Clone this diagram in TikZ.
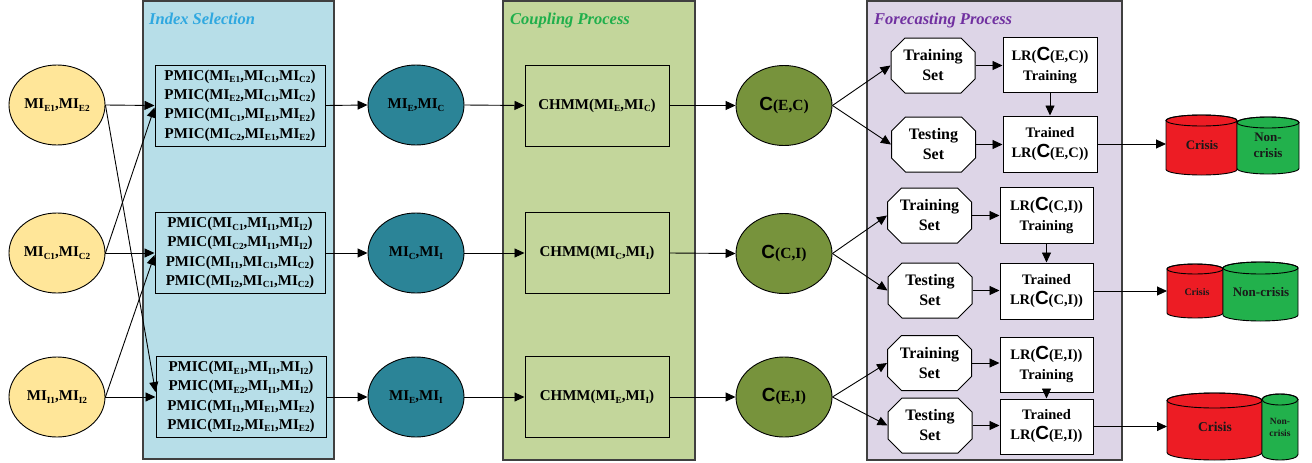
\documentclass[tikz,border=0pt]{standalone}
\usepackage{fontspec}
\setmainfont{Liberation Serif}
\newfontfamily\sansC{Liberation Sans}
\usetikzlibrary{shapes.geometric,shapes.misc,arrows.meta,calc}
\definecolor{idxfill}{HTML}{B7DEE8}
\definecolor{idxtitle}{HTML}{2FA8E0}
\definecolor{cpfill}{HTML}{C3D69B}
\definecolor{cptitle}{HTML}{1FAF4B}
\definecolor{fcfill}{HTML}{DDD5E7}
\definecolor{fctitle}{HTML}{7030A0}
\definecolor{yellc}{HTML}{FFE699}
\definecolor{tealc}{HTML}{2B8497}
\definecolor{olivec}{HTML}{77933C}
\definecolor{redc}{HTML}{ED1C24}
\definecolor{greenc}{HTML}{22B14C}
\definecolor{panelline}{HTML}{404040}
\newcommand\sbx[1]{\raisebox{-0.35ex}{\scalebox{0.62}{#1}}}
\newcommand\bigC{{\sansC\bfseries\fontsize{19}{19}\selectfont C}}
\newcommand\drum[6]{%
  \pgfmathsetmacro\dxc{(#1+#2)/2}\pgfmathsetmacro\drx{(#2-#1)/2}%
  \filldraw[fill=#6,line width=0.9pt] (#1,#3+#5) -- (#1,#4-#5)
    arc[start angle=180,end angle=0,x radius=\drx,y radius=#5] -- (#2,#3+#5)
    arc[start angle=0,end angle=-180,x radius=\drx,y radius=#5] -- cycle;
  \draw[line width=0.9pt] (\dxc,#3+#5) ellipse[x radius=\drx,y radius=#5];}
\tikzset{
  panel/.style={draw=panelline,line width=1.3pt},
  ptitle/.style={anchor=base west,inner sep=0pt,font=\fontsize{16.5}{18}\selectfont\bfseries\itshape},
  yell/.style={ellipse,draw,fill=yellc,line width=0.9pt,minimum width=96pt,minimum height=80pt,inner sep=0pt,font=\fontsize{15}{18}\selectfont\bfseries},
  teal/.style={ellipse,draw,fill=tealc,line width=0.9pt,minimum width=96pt,minimum height=80pt,inner sep=0pt,font=\fontsize{15}{18}\selectfont\bfseries},
  olive/.style={ellipse,draw,fill=olivec,line width=0.9pt,minimum width=96pt,minimum height=80pt,inner sep=0pt,font=\fontsize{15.5}{18}\selectfont\bfseries},
  pmbox/.style={rectangle,draw,line width=1pt,minimum width=170pt,minimum height=81pt,inner sep=0pt,align=center,font=\fontsize{15}{19.3}\selectfont\bfseries},
  chbox/.style={rectangle,draw,line width=1pt,minimum width=144pt,minimum height=81pt,inner sep=0pt,align=center,font=\fontsize{15}{19}\selectfont\bfseries},
  octa/.style={chamfered rectangle,chamfered rectangle xsep=6pt,chamfered rectangle ysep=8pt,draw,fill=white,line width=1pt,minimum width=84pt,minimum height=55pt,inner sep=0pt,align=center,font=\fontsize{16}{20}\selectfont\bfseries},
  lrbox/.style={rectangle,draw,fill=white,line width=1pt,minimum width=94pt,minimum height=55pt,inner sep=0pt,align=center,font=\fontsize{14.5}{20}\selectfont\bfseries},
  cyltxt/.style={inner sep=0pt,align=center,text=black!90,font=\bfseries},
  arr/.style={-{Triangle[length=10pt,width=9pt]},line width=0.9pt},
  ln/.style={line width=0.9pt}
}
\begin{document}
\begin{tikzpicture}[x=1pt,y=-1pt]
\useasboundingbox (0,0) rectangle (1312,463);
% panels
\filldraw[panel,fill=idxfill] (143,1) rectangle (334,459);
\filldraw[panel,fill=cpfill] (503,1) rectangle (695,460);
\filldraw[panel,fill=fcfill] (867,1) rectangle (1122,460);
\node[ptitle,text=idxtitle] (t1) at (149,24) {Index Selection};
\node[ptitle,text=cptitle] (t2) at (510,24) {Coupling Process};
\node[ptitle,text=fctitle] (t3) at (874,24) {Forecasting Process};
% input ellipses
\node[yell] (yE) at (57,105) {MI\sbx{E1},MI\sbx{E2}};
\node[yell] (yC) at (57,253) {MI\sbx{C1},MI\sbx{C2}};
\node[yell] (yI) at (57,397) {MI\sbx{I1},MI\sbx{I2}};
% PMIC boxes
\node[pmbox] (pm1) at (240,105.5) {PMIC(MI\sbx{E1},MI\sbx{C1},MI\sbx{C2})\\PMIC(MI\sbx{E2},MI\sbx{C1},MI\sbx{C2})\\PMIC(MI\sbx{C1},MI\sbx{E1},MI\sbx{E2})\\PMIC(MI\sbx{C2},MI\sbx{E1},MI\sbx{E2})};
\node[pmbox] (pm2) at (240,253) {PMIC(MI\sbx{C1},MI\sbx{I1},MI\sbx{I2})\\PMIC(MI\sbx{C2},MI\sbx{I1},MI\sbx{I2})\\PMIC(MI\sbx{I1},MI\sbx{C1},MI\sbx{C2})\\PMIC(MI\sbx{I2},MI\sbx{C1},MI\sbx{C2})};
\node[pmbox] (pm3) at (241,397) {PMIC(MI\sbx{E1},MI\sbx{I1},MI\sbx{I2})\\PMIC(MI\sbx{E2},MI\sbx{I1},MI\sbx{I2})\\PMIC(MI\sbx{I1},MI\sbx{E1},MI\sbx{E2})\\PMIC(MI\sbx{I2},MI\sbx{E1},MI\sbx{E2})};
% teal ellipses
\node[teal] (tE) at (416,105) {MI\sbx{E},MI\sbx{C}};
\node[teal] (tC) at (416,253) {MI\sbx{C},MI\sbx{I}};
\node[teal] (tI) at (416,397) {MI\sbx{E},MI\sbx{I}};
% CHMM boxes
\node[chbox] (ch1) at (597,105.5) {CHMM(MI\sbx{E},MI\sbx{C})};
\node[chbox] (ch2) at (597,253) {CHMM(MI\sbx{C},MI\sbx{I})};
\node[chbox] (ch3) at (597,397) {CHMM(MI\sbx{E},MI\sbx{I})};
% olive ellipses
\node[olive] (gE) at (784,105.5) {\bigC(E,C)};
\node[olive] (gC) at (784,253.5) {\bigC(C,I)};
\node[olive] (gI) at (784,397) {\bigC(E,I)};
% forecasting group 1
\node[octa] (tr1) at (933,65.5) {Training\\Set};
\node[octa] (te1) at (933.5,144.5) {Testing\\Set};
\node[lrbox] (lr1) at (1050,65) {LR(\bigC(E,C))\\Training};
\node[lrbox,minimum height=56pt] (td1) at (1050,144) {Trained\\LR(\bigC(E,C))};
% group 2
\node[octa] (tr2) at (929.5,215.5) {Training\\Set};
\node[octa] (te2) at (930,290.5) {Testing\\Set};
\node[lrbox,minimum width=93pt,minimum height=56pt] (lr2) at (1046.5,215) {LR(\bigC(C,I))\\Training};
\node[lrbox,minimum width=93pt,minimum height=56pt] (td2) at (1046.5,291) {Trained\\LR(\bigC(C,I))};
% group 3
\node[octa] (tr3) at (929.5,363) {Training\\Set};
\node[octa] (te3) at (930,425.5) {Testing\\Set};
\node[lrbox,minimum width=93pt] (lr3) at (1046.5,364.5) {LR(\bigC(E,I))\\Training};
\node[lrbox,minimum width=93pt] (td3) at (1046.5,426.5) {Trained\\LR(\bigC(E,I))};
% cylinders
\drum{1166}{1237}{115}{175}{5.5}{redc}
\drum{1237}{1299}{117}{174}{5.5}{greenc}
\drum{1167}{1223}{264}{318}{5}{redc}
\drum{1223}{1298}{262}{321}{6}{greenc}
\drum{1167}{1262}{393}{460}{7.5}{redc}
\drum{1262}{1298}{394}{460}{5.5}{greenc}
\coordinate (cyA) at (1166,144);
\coordinate (cyB) at (1167,291);
\coordinate (cyC) at (1167,426);
\node[cyltxt,font=\fontsize{13}{16}\selectfont\bfseries] (crA) at (1202,145) {Crisis};
\node[cyltxt,font=\fontsize{13}{16}\selectfont\bfseries] (ncA) at (1268,145) {Non-\\crisis};
\node[cyltxt,font=\fontsize{10}{12}\selectfont\bfseries] (crB) at (1197,292) {Crisis};
\node[cyltxt,font=\fontsize{13}{16}\selectfont\bfseries] (ncB) at (1261,292) {Non-crisis};
\node[cyltxt,font=\fontsize{13.5}{16}\selectfont\bfseries] (crC) at (1215,427) {Crisis};
\node[cyltxt,font=\fontsize{9.5}{12}\selectfont\bfseries] (ncC) at (1280,427) {Non-\\crisis};
% connectors: inputs to PMIC
\draw[arr] (yE.east) -- (pm1.west);
\draw[arr] (yE.east) -- ([yshift=5pt]pm3.west);
\draw[arr] (yC.east) -- ([yshift=-2pt]pm1.west);
\draw[arr] (yC.east) -- (pm2.west);
\draw[arr] (yI.east) -- ([yshift=-2pt]pm2.west);
\draw[arr] (yI.east) -- (pm3.west);
% PMIC -> teal -> CHMM -> olive
\draw[arr] (pm1.east) -- (tE.west);
\draw[arr] (pm2.east) -- (tC.west);
\draw[arr] (pm3.east) -- (tI.west);
\draw[arr] (tE.east) -- (ch1.west);
\draw[arr] (tC.east) -- (ch2.west);
\draw[arr] (tI.east) -- (ch3.west);
\draw[arr] (ch1.east) -- (gE.west);
\draw[arr] (ch2.east) -- (gC.west);
\draw[arr] (ch3.east) -- (gI.west);
% olive -> sets
\draw[arr] (gE.east) -- (tr1.west);
\draw[arr] (gE.east) -- (te1.west);
\draw[arr] (gC.east) -- (tr2.west);
\draw[arr] (gC.east) -- (te2.west);
\draw[arr] (gI.east) -- (tr3.west);
\draw[arr] (gI.east) -- (te3.west);
% within forecasting
\draw[arr] (tr1.east) -- (tr1.east -| lr1.west);
\draw[arr] (te1.east) -- (te1.east -| td1.west);
\draw[arr] (lr1.south) -- (td1.north);
\draw[arr] (tr2.east) -- (tr2.east -| lr2.west);
\draw[arr] (te2.east) -- (te2.east -| td2.west);
\draw[arr] (lr2.south) -- (td2.north);
\draw[arr] (tr3.east) -- (tr3.east -| lr3.west);
\draw[arr] (te3.east) -- (te3.east -| td3.west);
\draw[arr] (lr3.south) -- (td3.north);
% to cylinders
\draw[arr] (td1.east) -- (td1.east -| cyA);
\draw[arr] (td2.east) -- (td2.east -| cyB);
\draw[arr] (td3.east) -- (td3.east -| cyC);
\end{tikzpicture}
\end{document}
